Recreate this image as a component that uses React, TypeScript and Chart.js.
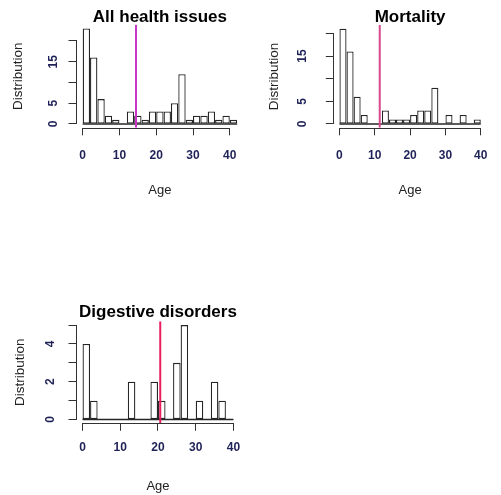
import React, { useEffect, useRef } from 'react';
import { Chart, registerables } from 'chart.js';

Chart.register(...registerables);
Chart.defaults.font.family = '"Liberation Sans", Arial, Helvetica, sans-serif';

// ---------- data ----------
const BIN_WIDTH = 2;
const BIN_CENTERS_42 = [1, 3, 5, 7, 9, 11, 13, 15, 17, 19, 21, 23, 25, 27, 29, 31, 33, 35, 37, 39, 41];
const BIN_CENTERS_40 = [1, 3, 5, 7, 9, 11, 13, 15, 17, 19, 21, 23, 25, 27, 29, 31, 33, 35, 37, 39];

const ALL_HEALTH_COUNTS = [23, 16, 6, 2, 1, 0, 3, 2, 1, 3, 3, 3, 5, 12, 1, 2, 2, 3, 1, 2, 1];
const MORTALITY_COUNTS = [21, 16, 6, 2, 0, 0, 3, 1, 1, 1, 2, 3, 3, 8, 0, 2, 0, 2, 0, 1];
const DIGESTIVE_COUNTS = [4, 1, 0, 0, 0, 0, 2, 0, 0, 2, 1, 0, 3, 5, 0, 1, 0, 2, 1, 0];

const ALL_HEALTH_MARK = 14.5;
const MORTALITY_MARK = 11.4;
const DIGESTIVE_MARK = 20.6;

const X_TICKS = [0, 10, 20, 30, 40];
const Y_TICKS_ALL = [0, 5, 10, 15, 20];
const Y_LABELS_ALL = [0, 5, 15];
const Y_TICKS_MORT = [0, 5, 10, 15, 20];
const Y_LABELS_MORT = [0, 5, 15];
const Y_TICKS_DIG = [0, 1, 2, 3, 4, 5];
const Y_LABELS_DIG = [0, 2, 4];

const TITLES = ['All health issues', 'Mortality', 'Digestive disorders'];
const X_LABEL = 'Age';
const Y_LABEL = 'Distribution';

// ---------- styles ----------
const BAR_COLOR = '#262626';
const AXIS_COLOR = '#333333';
const TICK_COLOR = '#1f2257';
const LABEL_COLOR = '#222222';

type Panel = {
  left: number; top: number; w: number; h: number;
  title: string;
  centers: number[]; counts: number[]; mark: number; markColor: string;
  xMin: number; xMax: number; yMin: number; yMax: number;
  yTicks: number[]; yLabels: number[];
  yWidth: number; padRight: number; xHeight: number;
  titlePadTop: number; titlePadBottom: number;
  yTickPad: number; yTitlePad: number; xTickPad: number; xTitlePad: number;
};

const PANELS: Panel[] = [
  {
    left: 0, top: 0, w: 250, h: 200, title: TITLES[0],
    centers: BIN_CENTERS_42, counts: ALL_HEALTH_COUNTS, mark: ALL_HEALTH_MARK, markColor: '#c935c9',
    xMin: -1.68, xMax: 43.68, yMin: -0.92, yMax: 23.92,
    yTicks: Y_TICKS_ALL, yLabels: Y_LABELS_ALL,
    yWidth: 76.5, padRight: 6.6, xHeight: 72.2,
    titlePadTop: 8.5, titlePadBottom: -0.8,
    yTickPad: 8.5, yTitlePad: 10.5, xTickPad: 13, xTitlePad: 1.5,
  },
  {
    left: 250, top: 0, w: 251, h: 200, title: TITLES[1],
    centers: BIN_CENTERS_40, counts: MORTALITY_COUNTS, mark: MORTALITY_MARK, markColor: '#d8488e',
    xMin: -1.6, xMax: 41.6, yMin: -0.84, yMax: 21.84,
    yTicks: Y_TICKS_MORT, yLabels: Y_LABELS_MORT,
    yWidth: 83.8, padRight: 0, xHeight: 72.2,
    titlePadTop: 8.5, titlePadBottom: -0.5,
    yTickPad: 16.2, yTitlePad: 15.8, xTickPad: 13, xTitlePad: 1.5,
  },
  {
    left: 0, top: 280, w: 250, h: 215, title: TITLES[2],
    centers: BIN_CENTERS_40, counts: DIGESTIVE_COUNTS, mark: DIGESTIVE_MARK, markColor: '#e81e5e',
    xMin: -1.6, xMax: 41.6, yMin: -0.2, yMax: 5.2,
    yTicks: Y_TICKS_DIG, yLabels: Y_LABELS_DIG,
    yWidth: 76.5, padRight: 6.5, xHeight: 71.7,
    titlePadTop: 24.2, titlePadBottom: 0.1,
    yTickPad: 14, yTitlePad: 12.5, xTickPad: 9.5, xTitlePad: 1,
  },
];

// R-style axis lines: only from first to last tick
const rAxisLines = {
  id: 'rAxisLines',
  afterDraw(chart: any) {
    const { ctx } = chart;
    const xs = chart.scales.x;
    const ys = chart.scales.y;
    ctx.save();
    ctx.strokeStyle = AXIS_COLOR;
    ctx.lineWidth = 1;
    ctx.beginPath();
    const xt = xs.ticks;
    const xa = Math.round(xs.getPixelForValue(xt[0].value) - 0.5) + 0.5;
    const xb = Math.round(xs.getPixelForValue(xt[xt.length - 1].value) - 0.5) + 0.5;
    const yLine = Math.round(xs.top) + 0.5;
    ctx.moveTo(xa - 0.5, yLine);
    ctx.lineTo(xb + 0.5, yLine);
    const yt = ys.ticks;
    const ya = Math.round(ys.getPixelForValue(yt[0].value) - 0.5) + 0.5;
    const yb = Math.round(ys.getPixelForValue(yt[yt.length - 1].value) - 0.5) + 0.5;
    const xLine = Math.round(ys.right) - 0.5;
    ctx.moveTo(xLine, ya + 0.5);
    ctx.lineTo(xLine, yb - 0.5);
    ctx.stroke();
    ctx.restore();
  },
};

function HistPanel({ p }: { p: Panel }) {
  const ref = useRef<HTMLCanvasElement | null>(null);
  useEffect(() => {
    if (!ref.current) return;
    const barData = p.counts.map((c, i) => ({ x: p.centers[i], y: c }));
    const first = p.centers[0] - BIN_WIDTH / 2;
    const last = p.centers[p.centers.length - 1] + BIN_WIDTH / 2;
    const chart = new Chart(ref.current, {
      type: 'bar',
      data: {
        datasets: [
          {
            type: 'line',
            data: [{ x: p.mark, y: p.yMin }, { x: p.mark, y: p.yMax }],
            borderColor: p.markColor,
            borderWidth: 2,
            pointRadius: 0,
            order: 0,
          } as any,
          {
            type: 'bar',
            data: barData,
            backgroundColor: '#ffffff',
            borderColor: BAR_COLOR,
            borderWidth: 1.3,
            borderSkipped: false,
            inflateAmount: 0,
            barPercentage: 1,
            categoryPercentage: 1,
            order: 2,
          } as any,
          {
            type: 'line',
            data: [{ x: first, y: 0 }, { x: last, y: 0 }],
            borderColor: BAR_COLOR,
            borderWidth: 1.3,
            pointRadius: 0,
            order: 3,
          } as any,
        ],
      },
      options: {
        responsive: false,
        animation: false,
        devicePixelRatio: 1,
        events: [],
        layout: { padding: { left: 0, top: 0, right: p.padRight, bottom: 0 } },
        plugins: {
          legend: { display: false },
          tooltip: { enabled: false },
          title: {
            display: true,
            text: p.title,
            fullSize: false,
            color: '#000000',
            font: { size: 17, weight: 'bold', lineHeight: 1 },
            padding: { top: p.titlePadTop, bottom: p.titlePadBottom },
          },
        },
        scales: {
          x: {
            type: 'linear',
            min: p.xMin,
            max: p.xMax,
            offset: false,
            bounds: 'data',
            afterBuildTicks: (s: any) => { s.ticks = X_TICKS.map((v) => ({ value: v })); },
            afterFit: (s: any) => { s.height = p.xHeight; },
            grid: { display: true, offset: false, drawOnChartArea: false, drawTicks: true, tickLength: 7.5, color: AXIS_COLOR, lineWidth: 1 },
            border: { display: false },
            ticks: {
              autoSkip: false, minRotation: 0, maxRotation: 0, padding: p.xTickPad,
              color: TICK_COLOR, font: { size: 12, weight: 'bold' },
              callback: (v: any) => String(v),
            },
            title: {
              display: true, text: X_LABEL, color: LABEL_COLOR,
              font: { size: 13, lineHeight: 1.2 }, padding: { top: 0, bottom: p.xTitlePad },
            },
          },
          y: {
            type: 'linear',
            min: p.yMin,
            max: p.yMax,
            bounds: 'data',
            afterBuildTicks: (s: any) => { s.ticks = p.yTicks.map((v) => ({ value: v })); },
            afterFit: (s: any) => { s.width = p.yWidth; },
            grid: { display: true, offset: false, drawOnChartArea: false, drawTicks: true, tickLength: 8, color: AXIS_COLOR, lineWidth: 1 },
            border: { display: false },
            ticks: {
              autoSkip: false, minRotation: 90, maxRotation: 90, crossAlign: 'center', padding: p.yTickPad,
              color: TICK_COLOR, font: { size: 12, weight: 'bold' },
              callback: (v: any) => (p.yLabels.includes(v) ? String(v) : ''),
            },
            title: {
              display: true, text: Y_LABEL, color: LABEL_COLOR,
              font: { size: 13.5, lineHeight: 1.2 }, padding: { top: p.yTitlePad, bottom: 0 },
            },
          },
        },
      } as any,
      plugins: [rAxisLines],
    });
    return () => chart.destroy();
  }, [p]);
  return (
    <canvas
      ref={ref}
      width={p.w}
      height={p.h}
      style={{ position: 'absolute', left: p.left, top: p.top, width: p.w, height: p.h, display: 'block' }}
    />
  );
}

export default function App() {
  return (
    <div style={{ position: 'absolute', left: 0, top: 0, width: 501, height: 495, background: '#ffffff', overflow: 'hidden' }}>
      {PANELS.map((p, i) => (
        <HistPanel key={i} p={p} />
      ))}
    </div>
  );
}
